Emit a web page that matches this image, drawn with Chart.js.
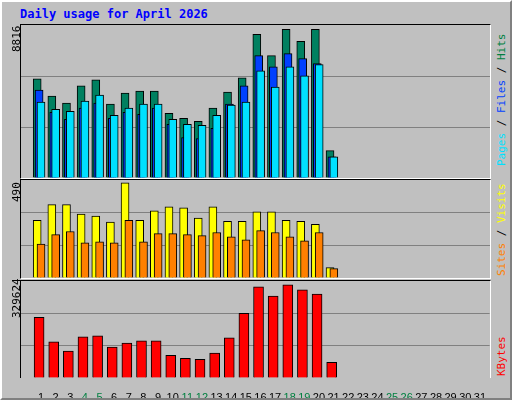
<!DOCTYPE html>
<html>
<head>
<meta charset="utf-8">
<script src="https://cdn.jsdelivr.net/npm/chart.js@4"></script>
<style>
  body { margin: 0; width: 512px; height: 400px; overflow: hidden; background: #c0c0c0; }
  #frame { position: absolute; left: 0; top: 0; width: 508px; height: 396px; border-top: 2px solid #fff; border-left: 2px solid #fff; border-right: 2px solid #808080; border-bottom: 2px solid #808080; background: #c0c0c0; }
  #title { position: absolute; left: 20px; top: 7px; font: bold 12px "DejaVu Sans Mono", monospace; color: #0000ff; }
  .panel { position: absolute; left: 20px; width: 471px; border-top: 1px solid #000; border-left: 1px solid #000; border-right: 1px solid #fff; border-bottom: 1px solid #fff; box-sizing: border-box; }
  .vlab { position: absolute; font: 11px "DejaVu Sans Mono", monospace; transform: rotate(-90deg); transform-origin: left top; white-space: nowrap; }
</style>
</head>
<body>
<div id="frame"></div>
<div id="title">Daily usage for April 2026</div>

<div class="panel" style="top:24px;height:155px"><canvas id="top"></canvas></div>
<div class="panel" style="top:179px;height:100px"><canvas id="mid"></canvas></div>
<div class="panel" style="top:280px;height:98px;border-bottom:none"></div>
<div style="position:absolute;left:21px;top:281px;width:470px;height:117px"><canvas id="bot"></canvas></div>

<div class="vlab" style="left:10px;top:52px">8816</div>
<div class="vlab" style="left:10px;top:202px">490</div>
<div class="vlab" style="left:10px;top:318px">329624</div>

<div class="vlab" style="left:495px;top:166px"><span style="color:#00e0ff">Pages</span> / <span style="color:#0040ff">Files</span> / <span style="color:#008040">Hits</span></div>
<div class="vlab" style="left:495px;top:276px"><span style="color:#ff8000">Sites</span> / <span style="color:#ffff00">Visits</span></div>
<div class="vlab" style="left:495px;top:376px"><span style="color:#ff0000">KBytes</span></div>

<script>
const days = Array.from({length: 31}, (_, i) => i + 1);
const weekends = [4, 5, 11, 12, 18, 19, 25, 26];

const hits = [5880, 4860, 4440, 5460, 5820, 4380, 5040, 5160, 5160, 3840, 3540, 3360, 4140, 5100, 5940, 8520, 7260, 8816, 8100, 8816, 1620];
const files = [5220, 3900, 3480, 4140, 4440, 3540, 3900, 3780, 4140, 3180, 2400, 2340, 2940, 4380, 5460, 7260, 6600, 7380, 7080, 6780, 1260];
const pages = [4500, 4080, 3960, 4560, 4920, 3720, 4140, 4380, 4380, 3480, 3180, 3120, 3720, 4320, 4500, 6360, 5400, 6600, 6060, 6720, 1260];
const visits = [297, 377, 377, 329, 319, 287, 490, 297, 345, 366, 361, 308, 366, 292, 292, 340, 340, 297, 292, 276, 53];
const sites = [175, 223, 239, 181, 186, 181, 297, 186, 228, 228, 223, 218, 234, 212, 196, 244, 234, 212, 191, 234, 48];
const kbytes = [214100, 127500, 95000, 145500, 149100, 109400, 123800, 131000, 131000, 80500, 69700, 66100, 87700, 141900, 228500, 322400, 289900, 329624, 311600, 297100, 55200];

function pts(values, shift) {
    return values.map((v, i) => ({x: days[i] + shift, y: v}));
}

// lower order is drawn on top
function bars(label, values, shift, color, width, order) {
    return {
        label: label,
        data: pts(values, shift),
        backgroundColor: color,
        borderColor: '#000',
        borderWidth: 1,
        barThickness: width,
        grouped: false,
        order: order
    };
}

function makeChart(id, datasets, max, showDays) {
    new Chart(document.getElementById(id), {
        type: 'bar',
        data: {datasets: datasets},
        options: {
            responsive: true,
            maintainAspectRatio: false,
            animation: false,
            layout: {padding: 0},
            plugins: {legend: {display: false}, tooltip: {enabled: false}},
            scales: {
                x: {
                    type: 'linear',
                    min: 0.35,
                    max: 31.35,
                    display: showDays,
                    grid: {display: false},
                    border: {display: false},
                    afterBuildTicks: s => { s.ticks = days.map(d => ({value: d + 0.2})); },
                    afterFit: s => { s.height = showDays ? 20 : 0; },
                    ticks: {
                        autoSkip: false,
                        maxRotation: 0,
                        padding: 5,
                        font: {family: 'Liberation Sans', size: 11},
                        color: c => weekends.includes(Math.round(c.tick.value - 0.2)) ? '#008040' : '#000',
                        callback: v => String(Math.round(v - 0.2))
                    }
                },
                y: {
                    min: 0,
                    max: max,
                    afterBuildTicks: s => { s.ticks = [{value: 0}, {value: max / 3}, {value: max * 2 / 3}, {value: max}]; },
                    afterFit: s => { s.width = 0; },
                    ticks: {display: false},
                    border: {display: false},
                    grid: {
                        drawTicks: false,
                        color: c => (c.index === 1 || c.index === 2) ? '#808080' : 'rgba(0,0,0,0)'
                    }
                }
            }
        }
    });
}

makeChart('top', [
    bars('Hits', hits, -0.06, '#008060', 8, 3),
    bars('Files', files, 0.07, '#0040ff', 8, 2),
    bars('Pages', pages, 0.2, '#00e0ff', 8, 1)
], 9075, false);

makeChart('mid', [
    bars('Visits', visits, -0.06, '#ffff00', 8, 2),
    bars('Sites', sites, 0.2, '#ff8000', 8, 1)
], 504, false);

makeChart('bot', [
    bars('KBytes', kbytes, 0.07, '#ff0000', 10, 1)
], 343000, true);
</script>
</body>
</html>
